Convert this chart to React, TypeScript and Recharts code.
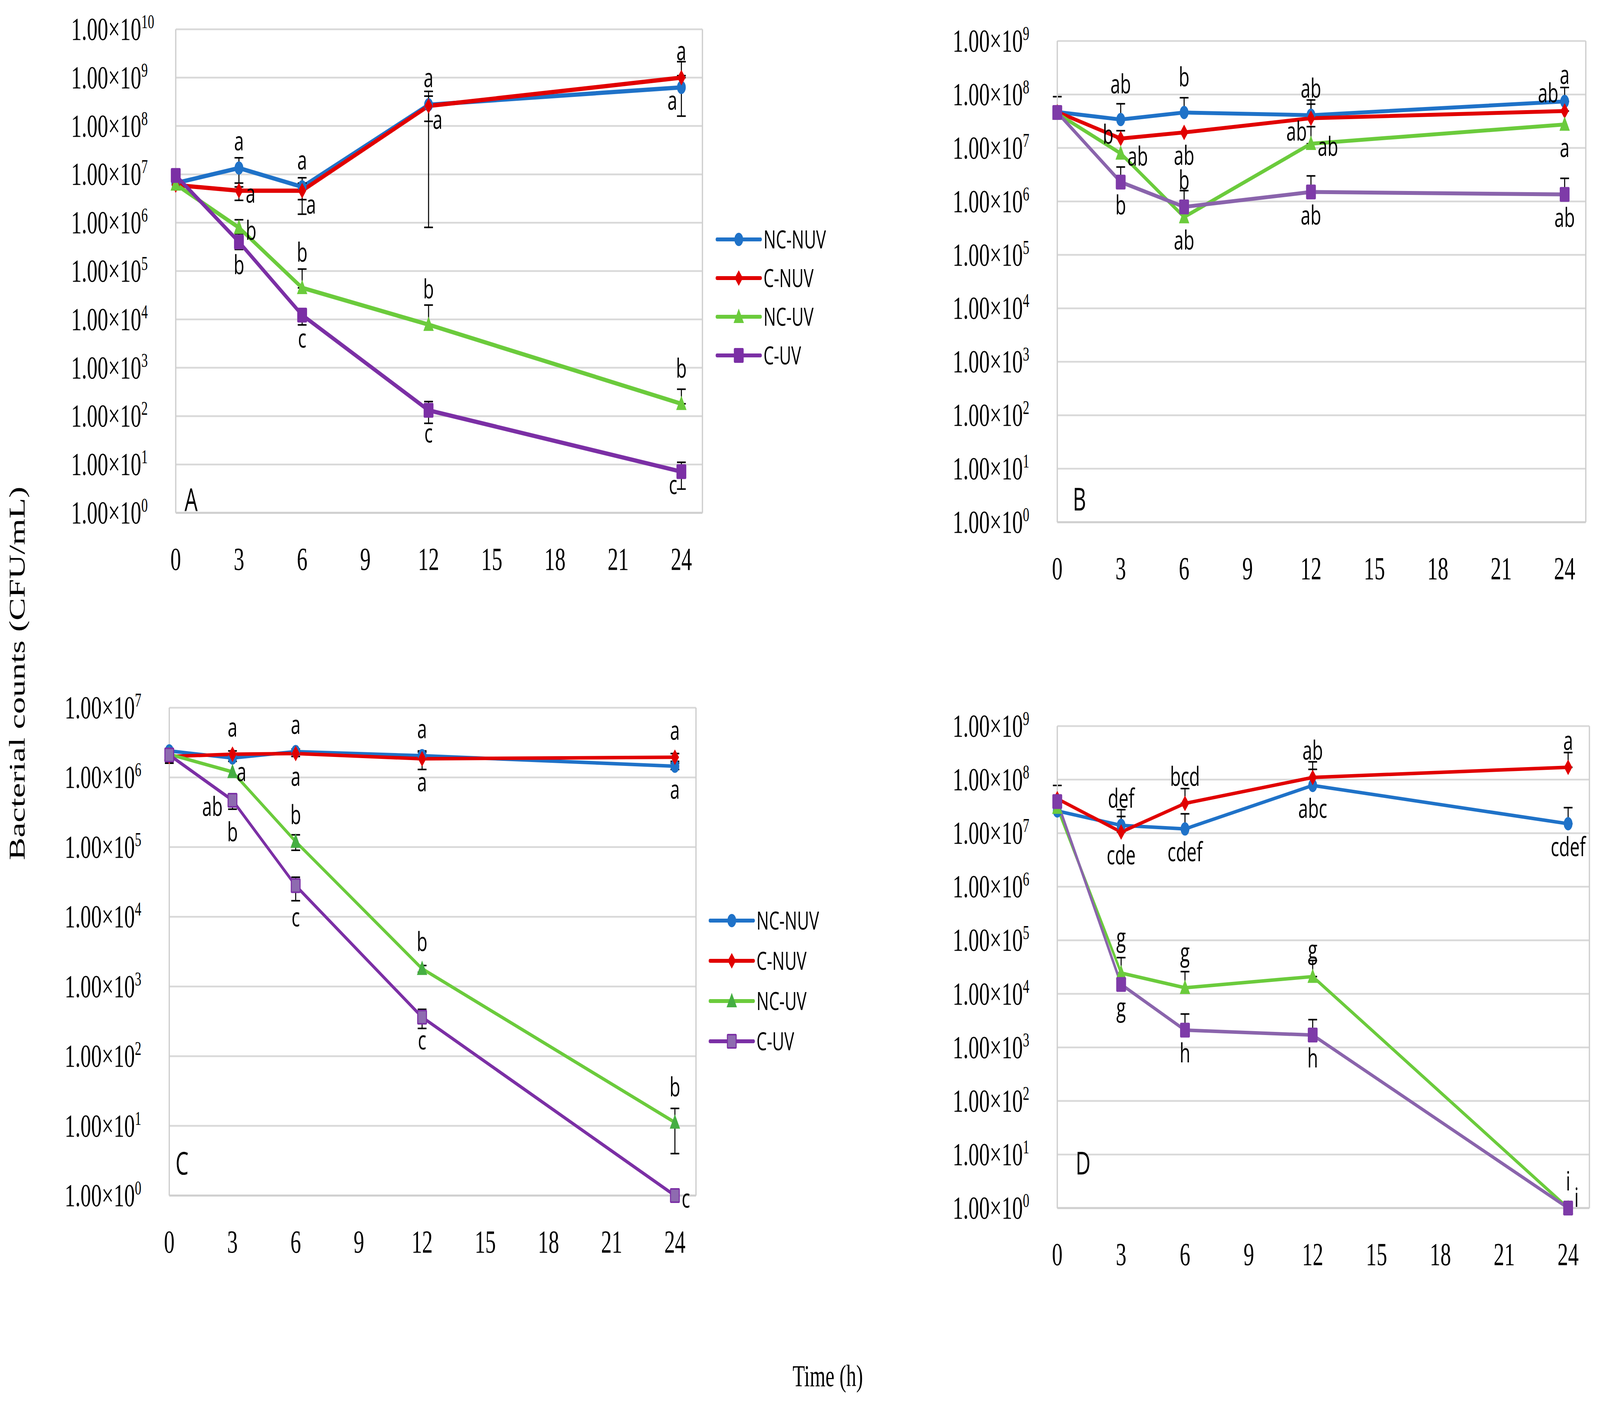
import React, { useEffect, useState } from "react";
import {
  CartesianGrid,
  ErrorBar,
  LabelList,
  Legend,
  Line,
  LineChart,
  ReferenceLine,
  XAxis,
  YAxis,
} from "recharts";

// sampling times (h) and axis ticks
const TIMES = [0, 3, 6, 12, 24];
const X_TICKS = [0, 3, 6, 9, 12, 15, 18, 21, 24];
const Y_TICKS_10 = [1, 1e1, 1e2, 1e3, 1e4, 1e5, 1e6, 1e7, 1e8, 1e9, 1e10];
const Y_TICKS_9 = [1, 1e1, 1e2, 1e3, 1e4, 1e5, 1e6, 1e7, 1e8, 1e9];
const Y_TICKS_7 = [1, 1e1, 1e2, 1e3, 1e4, 1e5, 1e6, 1e7];
const SERIES_NAMES = ["NC-NUV", "C-NUV", "NC-UV", "C-UV"];

// panel A (CFU/mL), error bars as [lower, upper]
const A_NC_NUV = [6.6e6, 1.35e7, 5.5e6, 2.75e8, 6.3e8];
const A_C_NUV = [6.0e6, 4.6e6, 4.6e6, 2.6e8, 1.0e9];
const A_NC_UV = [6.2e6, 7.9e5, 4.5e4, 7.8e3, 180];
const A_C_UV = [9.5e6, 4.0e5, 1.23e4, 132, 7.1];
const A_NC_NUV_ERR = [null, [8e6, 8.5e6], [2.5e6, 3e6], [1.5e8, 1.4e8], [4.7e8, 4.7e8]];
const A_C_NUV_ERR = [null, [1.7e6, 2e6], [3.1e6, 2e6], [2.592e8, 2.6e8], [0, 1.14e9]];
const A_NC_UV_ERR = [null, [3e5, 3.6e5], [0, 6.5e4], [0, 1.2e4], [0, 180]];
const A_C_UV_ERR = [null, [1.2e5, 1.9e5], [4.6e3, 3.3e3], [61, 68], [4, 4]];
const A_NC_NUV_LET = ["", "a", "a", "a", "a"];
const A_C_NUV_LET = ["", "a", "a", "a", "a"];
const A_NC_UV_LET = ["", "b", "b", "b", "b"];
const A_C_UV_LET = ["", "b", "c", "c", "c"];
const A_NC_NUV_AT = ["", "t", "t", "t", "lb"];
const A_C_NUV_AT = ["", "r", "rb", "rb", "t"];
const A_NC_UV_AT = ["", "r", "T", "T", "T"];
const A_C_UV_AT = ["", "b", "b", "b", "lb"];

// panel B
const B_NC_NUV = [4.7e7, 3.4e7, 4.6e7, 4.1e7, 7.4e7];
const B_C_NUV = [4.7e7, 1.5e7, 1.95e7, 3.6e7, 4.9e7];
const B_NC_UV = [4.4e7, 7.9e6, 5.1e5, 1.2e7, 2.75e7];
const B_C_UV = [4.6e7, 2.3e6, 7.9e5, 1.5e6, 1.35e6];
const B_NC_NUV_ERR = [[0, 4.4e7], [0, 3.3e7], [0, 4.1e7], [0, 3.8e7], [0, 6.1e7]];
const B_C_NUV_ERR = [null, [0, 6e6], null, [0, 3e7], [0, 2.5e7]];
const B_NC_UV_ERR = [null, null, null, [0, 1.3e7], null];
const B_C_UV_ERR = [null, [0, 2.1e6], [0, 8e5], [0, 1.5e6], [0, 1.35e6]];
const B_NC_NUV_LET = ["", "ab", "b", "ab", "a"];
const B_C_NUV_LET = ["", "b", "ab", "ab", "ab"];
const B_NC_UV_LET = ["", "ab", "ab", "ab", "a"];
const B_C_UV_LET = ["", "b", "b", "ab", "ab"];
const B_NC_NUV_AT = ["", "T", "T", "t", "t"];
const B_C_NUV_AT = ["", "l", "b", "lb", "lt"];
const B_NC_UV_AT = ["", "r", "b", "r", "b"];
const B_C_UV_AT = ["", "b", "t", "b", "b"];

// panel C
const C_NC_NUV = [2.4e6, 1.9e6, 2.35e6, 2.05e6, 1.45e6];
const C_C_NUV = [2.0e6, 2.15e6, 2.2e6, 1.85e6, 1.95e6];
const C_NC_UV = [2.15e6, 1.2e6, 1.2e5, 1.8e3, 11.2];
const C_C_UV = [2.1e6, 4.7e5, 2.8e4, 363, 1];
const C_NC_NUV_ERR = [null, [2e5, 2e5], [2e5, 2e5], [2.5e5, 2.5e5], [1.5e5, 1.5e5]];
const C_C_NUV_ERR = [[4e5, 4e5], [2.5e5, 2.5e5], [2e5, 2e5], [5.5e5, 5.5e5], [2.5e5, 2.5e5]];
const C_NC_UV_ERR = [null, null, [3e4, 3e4], [200, 200], [7.2, 6.6]];
const C_C_UV_ERR = [null, [1.2e5, 9e4], [1.1e4, 9e3], [113, 107], null];
const C_NC_NUV_LET = ["", "a", "a", "a", "a"];
const C_C_NUV_LET = ["", "a", "a", "a", "a"];
const C_NC_UV_LET = ["", "ab", "b", "b", "b"];
const C_C_UV_LET = ["", "b", "c", "c", "c"];
const C_NC_NUV_AT = ["", "rb", "t", "t", "b"];
const C_C_NUV_AT = ["", "t", "b", "b", "t"];
const C_NC_UV_AT = ["", "lbb", "t", "t", "T"];
const C_C_UV_AT = ["", "B", "B", "b", "r"];

// panel D
const D_NC_NUV = [2.6e7, 1.4e7, 1.2e7, 7.8e7, 1.5e7];
const D_C_NUV = [4.4e7, 1.05e7, 3.6e7, 1.1e8, 1.7e8];
const D_NC_UV = [3.0e7, 2.45e4, 1.3e4, 2.1e4, 1];
const D_C_UV = [3.9e7, 1.5e4, 2.1e3, 1.7e3, 1];
const D_NC_NUV_ERR = [null, [0, 1.35e7], [0, 1.1e7], [0, 7.8e7], [0, 1.5e7]];
const D_C_NUV_ERR = [[0, 3.4e7], [0, 1e7], [0, 3.2e7], [0, 1.05e8], [0, 1.5e8]];
const D_NC_UV_ERR = [null, [0, 2.3e4], [0, 1.3e4], [0, 2.1e4], null];
const D_C_UV_ERR = [null, null, [0, 2.1e3], [0, 1.6e3], null];
const D_NC_NUV_LET = ["", "def", "cdef", "abc", "cdef"];
const D_C_NUV_LET = ["", "cde", "bcd", "ab", "a"];
const D_NC_UV_LET = ["", "g", "g", "g", "i"];
const D_C_UV_LET = ["", "g", "h", "h", "i"];
const D_NC_NUV_AT = ["", "t", "b", "b", "b"];
const D_C_NUV_AT = ["", "b", "t", "t", "t"];
const D_NC_UV_AT = ["", "T", "T", "t", "t"];
const D_C_UV_AT = ["", "b", "b", "b", "ru"];

const BLUE = "#1F72C8";
const RED = "#E10000";
const GREEN = "#6BCB3C";
const GREEN_DARK = "#45AE42";
const PURPLE = "#7B2FA5";
const PURPLE_LIGHT = "#8A64AC";
const PURPLE_FILL = "#8E6BB0";
const GRID = "#D9D9D9";
const BORDER = "#CFCFCF";
const SERIF = "'Liberation Serif', 'Times New Roman', serif";
const SANS = "'Open Sans', sans-serif";

const PAGE_W = 6191;
const PAGE_H = 3587;

// letter offsets from the point: dx, dy (to glyph centre), anchor
const PLACE: Record<string, [number, number, string]> = {
  t: [0, -68, "middle"],
  T: [0, -90, "middle"],
  b: [0, 60, "middle"],
  B: [0, 82, "middle"],
  r: [26, 8, "start"],
  l: [-28, -10, "end"],
  rb: [16, 36, "start"],
  lb: [-16, 34, "end"],
  lt: [-24, -45, "end"],
  lbb: [-38, 90, "end"],
  ru: [24, -26, "start"],
};

const ML = 450;
const MT = 60;
const MR = 80;
const MB = 220;
const YW = 420;
const XH = 180;

function Marker({ shape, cx, cy, fill, stroke }: any) {
  if (cx == null || cy == null || isNaN(cx) || isNaN(cy)) return null;
  if (shape === "circle") return <circle cx={cx} cy={cy} r={17} fill={fill} />;
  if (shape === "diamond")
    return (
      <polygon
        points={`${cx},${cy - 20} ${cx + 16},${cy} ${cx},${cy + 20} ${cx - 16},${cy}`}
        fill={fill}
      />
    );
  if (shape === "triangle")
    return (
      <polygon
        points={`${cx},${cy - 21} ${cx + 20},${cy + 16} ${cx - 20},${cy + 16}`}
        fill={fill}
      />
    );
  return (
    <rect
      x={cx - 17}
      y={cy - 17}
      width={34}
      height={34}
      rx={2}
      fill={fill}
      stroke={stroke}
      strokeWidth={4}
    />
  );
}

function makeSeries(
  values: number[][],
  errs: any[][],
  letters: string[][],
  at: string[][],
  style: { color: string; fill: string; stroke: string; shape: string }[]
) {
  return SERIES_NAMES.map((name, k) => ({
    name,
    values: values[k],
    err: errs[k],
    letters: letters[k],
    at: at[k],
    ...style[k],
  }));
}

const STYLE_A = [
  { color: BLUE, fill: BLUE, stroke: BLUE, shape: "circle" },
  { color: RED, fill: RED, stroke: RED, shape: "diamond" },
  { color: GREEN, fill: GREEN, stroke: GREEN, shape: "triangle" },
  { color: PURPLE, fill: PURPLE, stroke: PURPLE, shape: "square" },
];
const STYLE_B = [
  STYLE_A[0],
  STYLE_A[1],
  STYLE_A[2],
  { color: PURPLE_LIGHT, fill: "#7E3BA8", stroke: "#7E3BA8", shape: "square" },
];
const STYLE_C = [
  STYLE_A[0],
  STYLE_A[1],
  { color: GREEN, fill: GREEN_DARK, stroke: GREEN_DARK, shape: "triangle" },
  { color: PURPLE, fill: PURPLE_FILL, stroke: PURPLE, shape: "square" },
];

const SERIES_A = makeSeries(
  [A_NC_NUV, A_C_NUV, A_NC_UV, A_C_UV],
  [A_NC_NUV_ERR, A_C_NUV_ERR, A_NC_UV_ERR, A_C_UV_ERR],
  [A_NC_NUV_LET, A_C_NUV_LET, A_NC_UV_LET, A_C_UV_LET],
  [A_NC_NUV_AT, A_C_NUV_AT, A_NC_UV_AT, A_C_UV_AT],
  STYLE_A
);
const SERIES_B = makeSeries(
  [B_NC_NUV, B_C_NUV, B_NC_UV, B_C_UV],
  [B_NC_NUV_ERR, B_C_NUV_ERR, B_NC_UV_ERR, B_C_UV_ERR],
  [B_NC_NUV_LET, B_C_NUV_LET, B_NC_UV_LET, B_C_UV_LET],
  [B_NC_NUV_AT, B_C_NUV_AT, B_NC_UV_AT, B_C_UV_AT],
  STYLE_B
);
const SERIES_C = makeSeries(
  [C_NC_NUV, C_C_NUV, C_NC_UV, C_C_UV],
  [C_NC_NUV_ERR, C_C_NUV_ERR, C_NC_UV_ERR, C_C_UV_ERR],
  [C_NC_NUV_LET, C_C_NUV_LET, C_NC_UV_LET, C_C_UV_LET],
  [C_NC_NUV_AT, C_C_NUV_AT, C_NC_UV_AT, C_C_UV_AT],
  STYLE_C
);
const SERIES_D = makeSeries(
  [D_NC_NUV, D_C_NUV, D_NC_UV, D_C_UV],
  [D_NC_NUV_ERR, D_C_NUV_ERR, D_NC_UV_ERR, D_C_UV_ERR],
  [D_NC_NUV_LET, D_C_NUV_LET, D_NC_UV_LET, D_C_UV_LET],
  [D_NC_NUV_AT, D_C_NUV_AT, D_NC_UV_AT, D_C_UV_AT],
  STYLE_B
);

const letterContent = (at: string[]) => (p: any) => {
  const v = p.value;
  if (!v) return null;
  const vb = p.viewBox || {};
  const x = typeof p.x === "number" ? p.x : vb.x;
  const y = typeof p.y === "number" ? p.y : vb.y;
  if (x == null || y == null) return null;
  const pl = PLACE[at[p.index]] || PLACE.t;
  return (
    <text
      x={x + pl[0]}
      y={y + pl[1] + 23}
      textAnchor={pl[2] as any}
      fontFamily={SANS}
      fontSize={68}
      fill="#000"
    >
      {v}
    </text>
  );
};

function legendContent(series: any[], gap: number) {
  return () => (
    <svg width={560} height={gap * 4 + 40}>
      {series.map((s, i) => {
        const cy = 60 + i * gap;
        return (
          <g key={s.name}>
            <line
              x1={5}
              x2={174}
              y1={cy}
              y2={cy}
              stroke={s.color}
              strokeWidth={10}
              strokeLinecap="round"
            />
            <Marker shape={s.shape} cx={89.5} cy={cy} fill={s.fill} stroke={s.stroke} />
            <text x={185} y={cy + 23} fontFamily={SANS} fontSize={64} fill="#000">
              {s.name}
            </text>
          </g>
        );
      })}
    </svg>
  );
}

interface PanelProps {
  box: { x: number; y: number; w: number; h: number };
  yTicks: number[];
  series: any[];
  lineWidth: number;
  legend?: { x: number; y: number; gap: number };
}

function Panel({ box, yTicks, series, lineWidth, legend }: PanelProps) {
  const width = box.w + ML + MR;
  const height = box.h + MT + MB;
  const left = box.x - ML;
  const top = box.y - MT;
  const rows = TIMES.map((t, i) => {
    const r: any = { t };
    series.forEach((s, k) => {
      r[`v${k}`] = s.values[i];
      r[`e${k}`] = s.err[i] ?? undefined;
      r[`l${k}`] = s.letters[i];
    });
    return r;
  });

  const renderXTick = (p: any) => (
    <text
      x={p.x}
      y={MT + box.h + 146}
      textAnchor="middle"
      fontFamily={SERIF}
      fontSize={82}
      fill="#000"
    >
      {p.payload.value}
    </text>
  );

  const renderYTick = (p: any) => {
    const e = Math.round(Math.log10(p.payload.value));
    return (
      <text x={ML - 405} y={p.y + 27} fontFamily={SERIF} fontSize={82} fill="#000">
        1.00×10
        <tspan fontSize={50} dy={-30}>
          {e}
        </tspan>
      </text>
    );
  };

  return (
    <div style={{ position: "absolute", left, top }}>
      <LineChart
        width={width}
        height={height}
        data={rows}
        margin={{ top: MT, right: MR, bottom: MB - XH, left: ML - YW }}
      >
        <CartesianGrid vertical={false} stroke={GRID} strokeWidth={4.5} />
        <XAxis
          dataKey="t"
          type="number"
          domain={[0, 25]}
          ticks={X_TICKS}
          interval={0}
          height={XH}
          tickLine={false}
          tickSize={0}
          tickMargin={0}
          axisLine={{ stroke: BORDER, strokeWidth: 5 }}
          tick={renderXTick}
        />
        <YAxis
          scale="log"
          type="number"
          domain={[yTicks[0], yTicks[yTicks.length - 1]]}
          ticks={yTicks}
          interval={0}
          width={YW}
          tickLine={false}
          tickSize={0}
          tickMargin={0}
          axisLine={{ stroke: BORDER, strokeWidth: 5 }}
          tick={renderYTick}
        />
        <ReferenceLine x={25} stroke={BORDER} strokeWidth={5} />
        {series.map((s, k) => (
          <Line
            key={s.name}
            name={s.name}
            dataKey={`v${k}`}
            stroke={s.color}
            strokeWidth={lineWidth}
            strokeLinejoin="round"
            type="linear"
            isAnimationActive={false}
            activeDot={false}
            dot={(p: any) => (
              <Marker
                key={`m${k}-${p.index}`}
                shape={s.shape}
                cx={p.cx}
                cy={p.cy}
                fill={s.fill}
                stroke={s.stroke}
              />
            )}
          >
            <ErrorBar
              dataKey={`e${k}`}
              direction="y"
              width={17}
              stroke="#000"
              strokeWidth={4}
              isAnimationActive={false}
            />
            <LabelList dataKey={`l${k}`} content={letterContent(s.at)} />
          </Line>
        ))}
        {legend && (
          <Legend
            layout="vertical"
            align="center"
            verticalAlign="middle"
            wrapperStyle={{
              left: legend.x - 5 - left,
              top: legend.y - 60 - top,
              width: 560,
              height: legend.gap * 4 + 40,
            }}
            content={legendContent(series, legend.gap)}
          />
        )}
      </LineChart>
    </div>
  );
}

// the figure is laid out in reference pixels; fit it to the viewport if that is smaller
function fitScale() {
  if (typeof window === "undefined") return { sx: 1, sy: 1 };
  const w = window.innerWidth || PAGE_W;
  const h = window.innerHeight || PAGE_H;
  return { sx: Math.min(1, w / PAGE_W), sy: Math.min(1, h / PAGE_H) };
}

export default function App() {
  const [fit, setFit] = useState(fitScale);
  useEffect(() => {
    const onResize = () => setFit(fitScale());
    window.addEventListener("resize", onResize);
    return () => window.removeEventListener("resize", onResize);
  }, []);

  return (
    <div
      style={{
        position: "absolute",
        left: 0,
        top: 0,
        width: PAGE_W * fit.sx,
        height: PAGE_H * fit.sy,
        overflow: "hidden",
        background: "#fff",
      }}
    >
      <div
        style={{
          position: "relative",
          width: PAGE_W,
          height: PAGE_H,
          transform: `scale(${fit.sx}, ${fit.sy})`,
          transformOrigin: "0 0",
        }}
      >
        <Panel
          box={{ x: 680, y: 75, w: 2038, h: 1238 }}
          yTicks={Y_TICKS_10}
          series={SERIES_A}
          lineWidth={11}
          legend={{ x: 2774, y: 613, gap: 99 }}
        />
        <Panel
          box={{ x: 4091, y: 105, w: 2045, h: 1232 }}
          yTicks={Y_TICKS_9}
          series={SERIES_B}
          lineWidth={10}
        />
        <Panel
          box={{ x: 655, y: 1812, w: 2038, h: 1249 }}
          yTicks={Y_TICKS_7}
          series={SERIES_C}
          lineWidth={9}
          legend={{ x: 2747, y: 2357, gap: 103 }}
        />
        <Panel
          box={{ x: 4091, y: 1859, w: 2059, h: 1234 }}
          yTicks={Y_TICKS_9}
          series={SERIES_D}
          lineWidth={9}
        />
        <svg
          width={PAGE_W}
          height={PAGE_H}
          style={{ position: "absolute", left: 0, top: 0, pointerEvents: "none" }}
        >
          <text x={714} y={1308} fontFamily={SANS} fontSize={80} fill="#000">A</text>
          <text x={4151} y={1307} fontFamily={SANS} fontSize={80} fill="#000">B</text>
          <text x={679} y={3007} fontFamily={SANS} fontSize={80} fill="#000">C</text>
          <text x={4162} y={3007} fontFamily={SANS} fontSize={80} fill="#000">D</text>
          <text
            transform="translate(95,1724) rotate(-90)"
            textAnchor="middle"
            fontFamily={SERIF}
            fontSize={87}
            fill="#000"
          >
            Bacterial counts (CFU/mL)
          </text>
          <text x={3203} y={3549} textAnchor="middle" fontFamily={SERIF} fontSize={78} fill="#000">
            Time (h)
          </text>
        </svg>
      </div>
    </div>
  );
}
